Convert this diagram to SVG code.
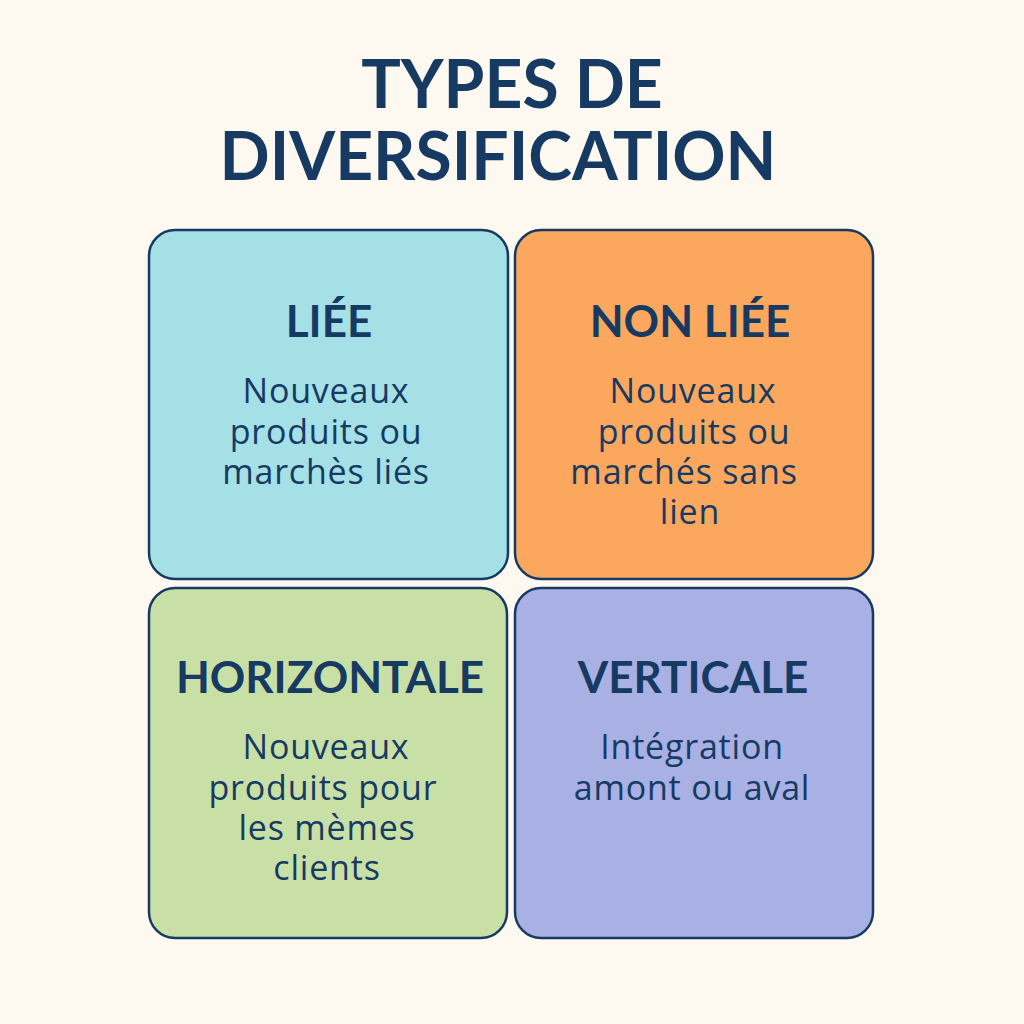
<svg xmlns="http://www.w3.org/2000/svg" width="1024" height="1024" viewBox="0 0 1024 1024">
<style>
.bg{fill:#fdf9f1}
.box{stroke:#163a62;stroke-width:2.5}
.title{font-family:Lato,"Liberation Sans",sans-serif;font-weight:700;font-size:66px;fill:#163a62;text-anchor:middle}
.head{font-family:Lato,"Liberation Sans",sans-serif;font-weight:700;font-size:44px;fill:#163a62;text-anchor:middle}
.body{font-family:"Open Sans","Liberation Sans",sans-serif;font-weight:400;font-size:34px;letter-spacing:0.8px;fill:#163a62;text-anchor:middle}
</style>
<rect class="bg" x="0" y="0" width="1024" height="1024"/>
<g id="title">
<text class="title" x="512" y="108">TYPES DE</text>
<text class="title" x="498" y="180">DIVERSIFICATION</text>
</g>
<g id="node-liee">
<rect class="box" x="149" y="230" width="359" height="349" rx="26" fill="#a4e0e6"/>
<text class="head" x="329" y="337">LIÉE</text>
<text class="body" x="326" y="403">Nouveaux</text>
<text class="body" x="326" y="444">produits ou</text>
<text class="body" x="326" y="484">marchès liés</text>
</g>
<g id="node-non-liee">
<rect class="box" x="515" y="230" width="358" height="349" rx="26" fill="#fba85e"/>
<text class="head" x="690" y="337">NON LIÉE</text>
<text class="body" x="693" y="403">Nouveaux</text>
<text class="body" x="694" y="444">produits ou</text>
<text class="body" x="684" y="484">marchés sans</text>
<text class="body" x="690" y="524">lien</text>
</g>
<g id="node-horizontale">
<rect class="box" x="149" y="588" width="358" height="350" rx="26" fill="#c8e0a6"/>
<text class="head" x="330" y="693">HORIZONTALE</text>
<text class="body" x="326" y="759">Nouveaux</text>
<text class="body" x="323" y="800">produits pour</text>
<text class="body" x="327" y="840">les mèmes</text>
<text class="body" x="327" y="880">clients</text>
</g>
<g id="node-verticale">
<rect class="box" x="515" y="588" width="358" height="350" rx="26" fill="#a8b0e4"/>
<text class="head" x="693" y="693">VERTICALE</text>
<text class="body" x="692" y="759">Intégration</text>
<text class="body" x="692" y="800">amont ou aval</text>
</g>
<g id="connectors"/>
</svg>
